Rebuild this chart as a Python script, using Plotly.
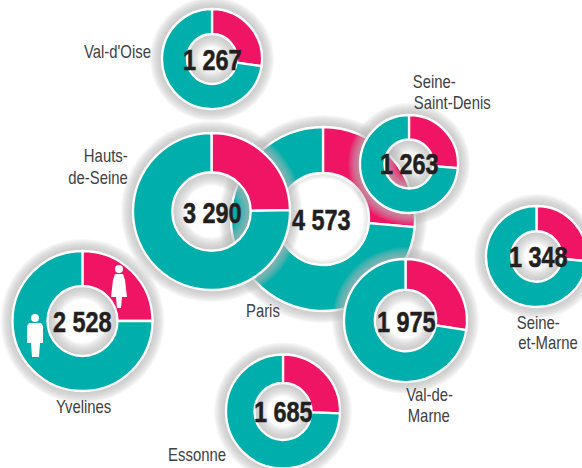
import plotly.graph_objects as go

# ---- data
departements = ["Paris", "Val-d'Oise", "Yvelines", "Essonne", "Seine-et-Marne", "Hauts-de-Seine", "Val-de-Marne", "Seine-Saint-Denis"]
total_labels = ["4 573", "1 267", "2 528", "1 685", "1 348", "3 290", "1 975", "1 263"]
femmes = [1207, 346, 632, 430, 357, 813, 543, 333]
hommes = [3366, 921, 1896, 1255, 991, 2477, 1432, 930]

# ---- layout (pixels in the 582x468 picture)
PAD = 20
W, H = 582 + 2 * PAD + 20, 468 + 2 * PAD
centres = [(323, 219), (212, 59), (82.5, 321), (283, 411.5), (536.5, 256.5), (211.5, 211.5), (405.5, 320.5), (409, 164)]
rayons = [92, 50, 70, 57, 50.5, 78.5, 61.5, 49]
ombres_trou = [5, 12, 12, 12, 12, 12, 12, 12]
num_pos = [(322, 220), (212, 60), (82.7, 322), (283.5, 412), (538, 257), (212, 213), (406, 322), (409.5, 164)]
labels = [
    ("Val-d'Oise", 117.5, 52), ("Seine-", 434, 82), ("Saint-Denis", 452, 103),
    ("Hauts-", 106, 156), ("de-Seine", 97.5, 178), ("Yvelines", 83, 407),
    ("Paris", 263, 311), ("Val-de-", 429, 395), ("Marne", 429, 416),
    ("Seine-", 538.5, 322.5), ("et-Marne", 548, 343), ("Essonne", 197, 455),
]

TEAL, PINK, INK, GREY = "#00AEAB", "#F01464", "#231F20", "#414042"
SHADOW = "rgba(185,185,185,0.10)"
HOLE = 0.5


def px(x):
    return (x + PAD) / W


def py(y):
    return 1 - (y + PAD) / H


def dom(cx, cy, r):
    return dict(x=[px(cx - r), px(cx + r)], y=[py(cy + r), py(cy - r)])


def ring(cx, cy, router, rinner):
    return go.Pie(values=[1], domain=dom(cx, cy, router), hole=rinner / router, sort=False,
                  marker=dict(colors=[SHADOW], line=dict(width=0)), textinfo="none",
                  hoverinfo="skip", showlegend=False)


fig = go.Figure()
for name, (cx, cy), r, f, h, nh in zip(departements, centres, rayons, femmes, hommes, ombres_trou):
    rh = r * HOLE
    # outer soft shadow
    for k in range(1, 13):
        fig.add_trace(ring(cx, cy, r + k, r - 2))
    # inner shadow in the hole
    for k in range(1, nh + 1):
        fig.add_trace(ring(cx, cy, rh + 2, max(rh - k * 1.1, 1)))
    fig.add_trace(go.Pie(labels=["Femmes", "Hommes"], values=[f, h], name=name, domain=dom(cx, cy, r), hole=HOLE,
                         sort=False, direction="clockwise", rotation=0,
                         marker=dict(colors=[PINK, TEAL], line=dict(color="white", width=2.3)),
                         textinfo="none", showlegend=False))

ann = []
for t, (x, y) in zip(total_labels, num_pos):
    ann.append(dict(x=px(x), y=py(y), xref="paper", yref="paper", text=f"<b>{t}</b>", showarrow=False,
                    xanchor="center", yanchor="middle",
                    font=dict(family="Liberation Sans", size=29, color=INK)))
for t, x, y in labels:
    ann.append(dict(x=px(x), y=py(y), xref="paper", yref="paper", text=t, showarrow=False,
                    xanchor="center", yanchor="middle",
                    font=dict(family="Liberation Sans", size=17.5, color=GREY)))


def path(points):
    return "M " + " L ".join(f"{px(a):.5f},{py(b):.5f}" for a, b in points) + " Z"


woman = [(115, 274), (123, 274), (125, 280), (127, 297), (122, 297), (121, 308), (117, 308), (116, 297), (111, 297), (113, 280)]
man = [(29, 323), (41, 323), (43, 326), (43, 343), (40, 343), (39, 357), (32, 357), (31, 343), (27, 343), (27, 326)]
shapes = [dict(type="path", xref="paper", yref="paper", path=path(p), fillcolor="white", line=dict(width=0)) for p in (woman, man)]
for cx, cy in ((119, 269), (35, 318)):
    shapes.append(dict(type="circle", xref="paper", yref="paper", x0=px(cx - 4), x1=px(cx + 4), y0=py(cy + 4), y1=py(cy - 4),
                       fillcolor="white", line=dict(width=0)))

fig.update_layout(width=W, height=H, margin=dict(l=0, r=0, t=0, b=0), paper_bgcolor="white",
                  annotations=ann, shapes=shapes, showlegend=False)

script = """
document.documentElement.style.overflow='hidden';
document.body.style.overflow='hidden';
document.body.style.margin='-%dpx 0 0 -%dpx';
window.scrollTo(0,0);
function squeeze(){
  document.querySelectorAll('.annotation-text').forEach(function(t){
    var b=t.getBBox(), c=b.x+b.width/2;
    var bold=t.querySelector('[style*="bold"]')!==null;
    var s=bold?0.81:0.85;
    t.setAttribute('transform','translate('+c+',0) scale('+s+',1) translate('+(-c)+',0)');
    if(bold){t.style.stroke='#231F20';t.style.strokeWidth='0.5px';}
  });
}
squeeze(); setTimeout(squeeze,30); setTimeout(squeeze,200);
""" % (PAD, PAD)
fig.write_html("out.html", post_script=script)
